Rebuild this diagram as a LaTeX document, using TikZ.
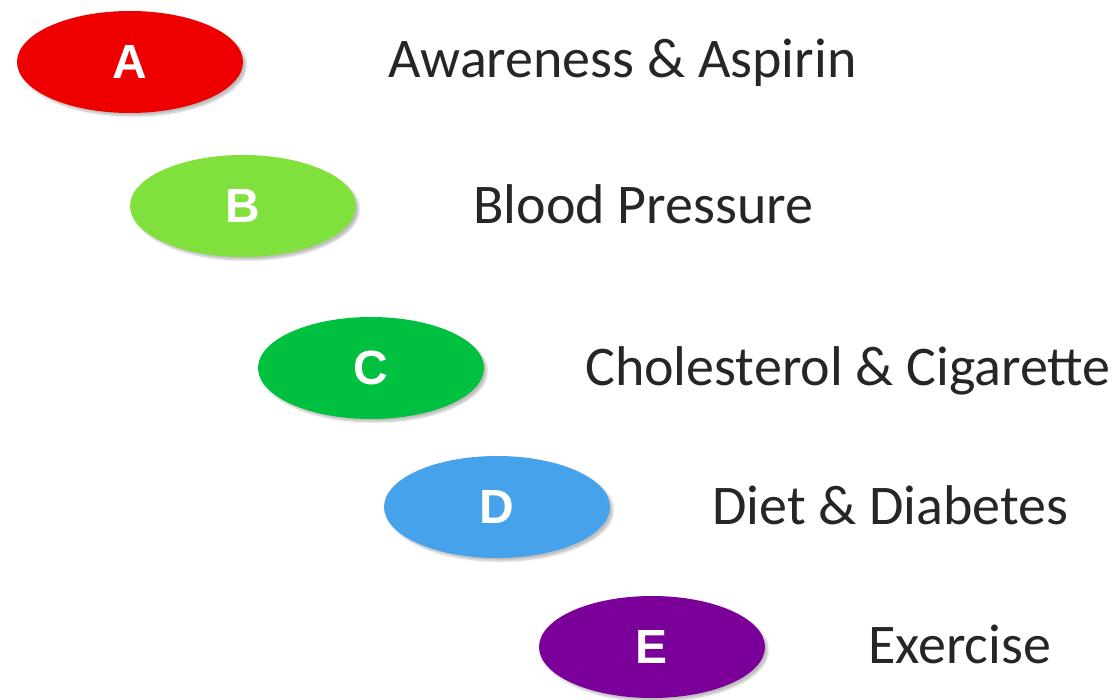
\documentclass[tikz,border=0pt]{standalone}
\usepackage{fontspec}
\setmainfont{Carlito}
\newfontfamily\letterfont{Liberation Sans}
\usetikzlibrary{shapes.geometric,shadows.blur}
\definecolor{cA}{HTML}{EE0000}
\definecolor{cB}{HTML}{80E03C}
\definecolor{cC}{HTML}{00C040}
\definecolor{cD}{HTML}{46A2EA}
\definecolor{cE}{HTML}{7A0099}
\definecolor{txt}{HTML}{262626}
\tikzset{
  oval/.style={ellipse, minimum width=226pt, minimum height=102pt, inner sep=0pt,
    blur shadow={shadow xshift=3pt, shadow yshift=-3pt, shadow blur steps=6, shadow opacity=25},
    text=white, font=\letterfont\bfseries\fontsize{48}{48}\selectfont},
  label/.style={anchor=base west, inner sep=0pt, text=txt, font=\fontsize{56}{56}\selectfont}
}
\begin{document}
\begin{tikzpicture}[x=1pt,y=-1pt]
\useasboundingbox (0,0) rectangle (1120,700);
\node[oval, fill=cA] (a) at (130,62) {A};
\node[oval, fill=cB] (b) at (243,206) {B};
\node[oval, fill=cC] (c) at (371,368) {C};
\node[oval, fill=cD] (d) at (497,507) {D};
\node[oval, fill=cE] (e) at (652,647) {E};
\node[label] (ta) at (388,78) {Awareness \& Aspirin};
\node[label] (tb) at (473,224) {Blood Pressure};
\node[label] (tc) at (585,386) {Cholesterol \& Cigarette};
\node[label] (td) at (712,525) {Diet \& Diabetes};
\node[label] (te) at (868,663) {Exercise};
\end{tikzpicture}
\end{document}
